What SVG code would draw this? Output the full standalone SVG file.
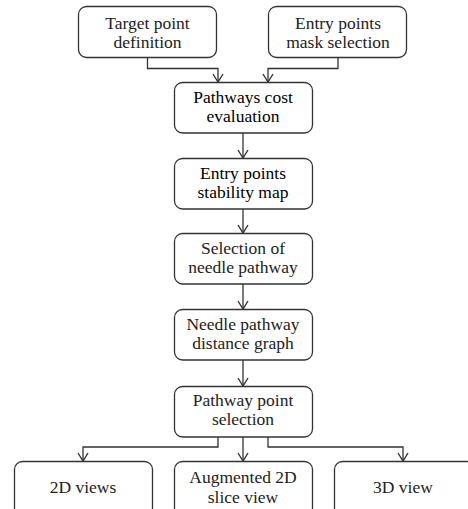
<svg xmlns="http://www.w3.org/2000/svg" width="468" height="509" viewBox="0 0 468 509">
<defs>
<marker id="arr" markerWidth="10" markerHeight="12" refX="9" refY="6" orient="auto" markerUnits="userSpaceOnUse" viewBox="0 0 10 12">
<path d="M1,1 L9,6 L1,11" fill="none" stroke="#333" stroke-width="1.4"/>
</marker>
</defs>
<style>
.box{fill:#fff;stroke:#333;stroke-width:1.3}
text{font-family:'Liberation Serif','DejaVu Serif',serif;font-size:17.5px;fill:#222;text-anchor:middle}
.d{fill:#000}
.c{fill:none;stroke:#333;stroke-width:1.3}
</style>
<rect width="468" height="509" fill="#fff"/>
<g id="connectors">
<polyline class="c" points="147.5,57 147.5,68.5 218,68.5 218,82" marker-end="url(#arr)"/>
<polyline class="c" points="338,57 338,68.5 268,68.5 268,82" marker-end="url(#arr)"/>
<line class="c" x1="243" y1="133" x2="243" y2="158" marker-end="url(#arr)"/>
<line class="c" x1="243" y1="209" x2="243" y2="233" marker-end="url(#arr)"/>
<line class="c" x1="243" y1="284" x2="243" y2="309" marker-end="url(#arr)"/>
<line class="c" x1="243" y1="360" x2="243" y2="386" marker-end="url(#arr)"/>
<polyline class="c" points="218,437 218,447 83,447 83,461" marker-end="url(#arr)"/>
<line class="c" x1="243" y1="437" x2="243" y2="461" marker-end="url(#arr)"/>
<polyline class="c" points="268,437 268,447 403,447 403,461" marker-end="url(#arr)"/>
</g>
<g id="n1"><rect class="box" x="78.5" y="6.5" width="138" height="51" rx="8"/>
<text x="147.5" y="29" font-family="Liberation Serif">Target point</text><text x="147.5" y="48" font-family="Liberation Serif">definition</text></g>
<g id="n2"><rect class="box" x="268.5" y="6.5" width="138" height="51" rx="8"/>
<text x="338" y="29">Entry points</text><text x="338" y="48">mask selection</text></g>
<g id="n3"><rect class="box" x="174.5" y="82.5" width="138" height="50.5" rx="8"/>
<text class="d" x="243" y="102.5">Pathways cost</text><text class="d" x="243" y="121.5">evaluation</text></g>
<g id="n4"><rect class="box" x="174.5" y="158.5" width="138" height="50.5" rx="8"/>
<text class="d" x="243" y="179">Entry points</text><text class="d" x="243" y="198">stability map</text></g>
<g id="n5"><rect class="box" x="174.5" y="233.5" width="138" height="50.5" rx="8"/>
<text x="243" y="254">Selection of</text><text x="243" y="273">needle pathway</text></g>
<g id="n6"><rect class="box" x="174.5" y="309.5" width="138" height="50.5" rx="8"/>
<text x="243" y="330">Needle pathway</text><text x="243" y="349">distance graph</text></g>
<g id="n7"><rect class="box" x="174.5" y="386.5" width="138" height="50.5" rx="8"/>
<text x="243" y="406">Pathway point</text><text x="243" y="425">selection</text></g>
<g id="n8"><rect class="box" x="14.5" y="461.5" width="138" height="60" rx="8"/>
<text x="83" y="493">2D views</text></g>
<g id="n9"><rect class="box" x="174.5" y="461.5" width="138" height="60" rx="8"/>
<text x="243" y="483">Augmented 2D</text><text x="243" y="502.5">slice view</text></g>
<g id="n10"><rect class="box" x="334.5" y="461.5" width="140" height="60" rx="8"/>
<text x="403" y="493">3D view</text></g>
</svg>
